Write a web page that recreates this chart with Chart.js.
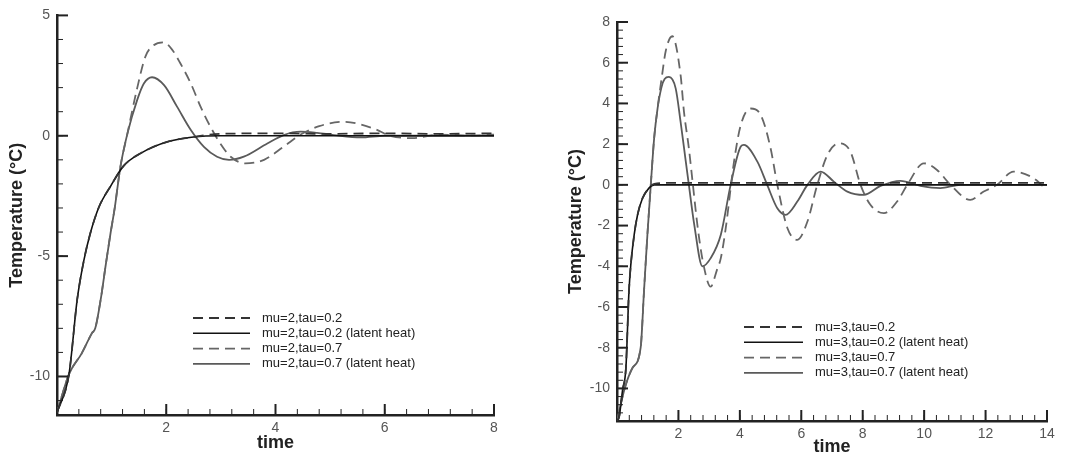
<!DOCTYPE html>
<html>
<head>
<meta charset="utf-8">
<script src="https://cdn.jsdelivr.net/npm/chart.js@4.4.0/dist/chart.umd.min.js"></script>
<style>
  body { margin: 0; background: #fff; }
  #c1 { position: absolute; left: 0; top: 0; }
  #c2 { position: absolute; left: 540px; top: 0; }
</style>
</head>
<body>
<canvas id="c1" width="520" height="467"></canvas>
<canvas id="c2" width="530" height="467"></canvas>
<script>
const FONT = 'Arial, "Liberation Sans", Helvetica, sans-serif';

// ---- left panel, mu=2 ----
const labelsMu2 = ["mu=2,tau=0.2", "mu=2,tau=0.2 (latent heat)", "mu=2,tau=0.7", "mu=2,tau=0.7 (latent heat)"];
const xTicksMu2 = [2, 4, 6, 8];
const yTicksMu2 = [-10, -5, 0, 5];

// tau=0.2 (no overshoot)
const tMu2Fast = [0, 0.22, 0.37, 0.49, 0.61, 0.77, 0.98, 1.22, 1.53, 2.02, 2.5, 3.0, 4.0, 5.0, 6.0, 7.0, 8.0];
const TMu2Fast = [-11.5, -9.9, -6.8, -5.2, -4.05, -2.95, -2.1, -1.25, -0.73, -0.25, -0.05, 0.08, 0.1, 0.08, 0.1, 0.08, 0.1];
const TMu2FastLH = [-11.5, -9.9, -6.8, -5.2, -4.05, -2.95, -2.1, -1.25, -0.73, -0.25, -0.05, 0, 0, 0, 0, 0, 0];

// tau=0.7 (oscillating)
const tMu2Slow = [0, 0.22, 0.45, 0.64, 0.7, 0.8, 0.89, 0.98, 1.06, 1.16, 1.29, 1.47, 1.62, 1.77, 1.95, 2.1, 2.26, 2.45, 2.63, 2.81, 2.99, 3.18, 3.45, 3.79, 4.15, 4.46, 4.8, 5.25, 5.8, 6.1, 6.5, 7.0, 7.5, 8.0];
const TMu2Slow = [-11.5, -9.9, -9.05, -8.2, -8.0, -6.8, -5.4, -4.05, -2.95, -1.3, 0.1, 2.0, 3.3, 3.76, 3.88, 3.6, 3.0, 2.17, 1.2, 0.37, -0.32, -0.87, -1.15, -1.0, -0.45, 0.05, 0.4, 0.58, 0.3, 0.0, -0.1, 0.05, 0.0, 0.05];
const tMu2SlowLH = [0, 0.22, 0.45, 0.64, 0.7, 0.8, 0.89, 0.98, 1.06, 1.16, 1.29, 1.47, 1.59, 1.74, 1.96, 2.2, 2.45, 2.69, 2.93, 3.15, 3.42, 3.85, 4.15, 4.46, 4.76, 5.07, 5.56, 6.0, 7.0, 8.0];
const TMu2SlowLH = [-11.5, -9.9, -9.05, -8.2, -8.0, -6.8, -5.4, -4.05, -2.95, -1.3, 0.1, 1.5, 2.17, 2.43, 2.1, 1.2, 0.24, -0.46, -0.87, -1.0, -0.87, -0.32, 0.03, 0.17, 0.12, 0.03, -0.07, 0, 0, 0];

// ---- right panel, mu=3 ----
const labelsMu3 = ["mu=3,tau=0.2", "mu=3,tau=0.2 (latent heat)", "mu=3,tau=0.7", "mu=3,tau=0.7 (latent heat)"];
const xTicksMu3 = [2, 4, 6, 8, 10, 12, 14];
const yTicksMu3 = [-10, -8, -6, -4, -2, 0, 2, 4, 6, 8];

const tMu3Fast = [0, 0.07, 0.18, 0.29, 0.39, 0.45, 0.56, 0.67, 0.83, 1.04, 1.21, 2, 4, 6, 8, 10, 12, 14];
const TMu3Fast = [-11.6, -11.4, -10.1, -9.0, -5.2, -3.92, -2.45, -1.47, -0.66, -0.16, 0.05, 0.1, 0.1, 0.1, 0.1, 0.1, 0.1, 0.1];
const TMu3FastLH = [-11.6, -11.4, -10.1, -9.0, -5.2, -3.92, -2.45, -1.47, -0.66, -0.16, 0, 0, 0, 0, 0, 0, 0, 0];

const tMu3Slow = [0, 0.25, 0.5, 0.77, 0.88, 0.99, 1.1, 1.21, 1.32, 1.45, 1.59, 1.8, 2.07, 2.18, 2.34, 2.46, 2.62, 2.8, 3.05, 3.25, 3.38, 3.54, 3.81, 4.03, 4.35, 4.68, 5.0, 5.22, 5.55, 5.87, 6.2, 6.52, 6.85, 7.22, 7.6, 7.93, 8.25, 8.69, 9.12, 9.45, 9.99, 10.42, 10.86, 11.5, 11.94, 12.37, 12.91, 13.56, 14];
const TMu3Slow = [-11.6, -10, -9.0, -8.0, -5.2, -2.45, 0, 2.3, 3.75, 5.2, 6.6, 7.3, 5.4, 3.6, 1.8, 0.16, -2.0, -3.8, -5.0, -4.2, -3.6, -2.13, 1.14, 2.94, 3.75, 3.43, 1.8, 0, -2.13, -2.7, -1.8, 0, 1.47, 2.04, 1.63, 0, -0.98, -1.39, -0.82, 0, 1.06, 0.73, 0, -0.74, -0.33, 0, 0.65, 0.33, -0.25];
const tMu3SlowLH = [0, 0.25, 0.5, 0.77, 0.88, 0.99, 1.1, 1.21, 1.32, 1.45, 1.55, 1.69, 1.91, 2.07, 2.24, 2.34, 2.51, 2.78, 3.05, 3.38, 3.7, 4.03, 4.13, 4.57, 4.89, 5.22, 5.49, 5.87, 6.2, 6.63, 7.06, 7.5, 8.04, 8.58, 9.23, 9.88, 10.53, 11.18, 12, 13, 14];
const TMu3SlowLH = [-11.6, -10, -9.0, -8.0, -5.2, -2.45, 0, 2.3, 3.75, 4.8, 5.2, 5.3, 4.74, 3.1, 1.14, 0, -1.9, -4.0, -3.6, -2.45, 0, 1.88, 1.96, 1.14, 0, -1.15, -1.47, -0.82, 0, 0.65, 0.16, -0.33, -0.49, -0.05, 0.2, -0.05, -0.16, 0, 0, 0, 0];

// line look for the 4 series (same in both panels)
const lineStyles = [
  { color: "#333", dash: [10, 6], width: 1.8 },
  { color: "#111", dash: [], width: 1.6 },
  { color: "#666", dash: [10, 6], width: 1.8 },
  { color: "#5a5a5a", dash: [], width: 1.8 },
];

function pts(t, T) {
  return t.map((x, i) => ({ x: x, y: T[i] }));
}

// ticks pointing into the plot, like the original plotting program
const innerTicks = {
  id: "innerTicks",
  afterDraw(chart, args, o) {
    const { ctx, chartArea: a, scales: { x, y } } = chart;
    ctx.save();
    ctx.strokeStyle = "#222";
    function seg(x1, y1, x2, y2, w) {
      ctx.lineWidth = w;
      ctx.beginPath();
      ctx.moveTo(x1, y1);
      ctx.lineTo(x2, y2);
      ctx.stroke();
    }
    for (let v = x.min + o.xMinor; v < x.max - 1e-6; v += o.xMinor) {
      const px = x.getPixelForValue(v);
      seg(px, a.bottom, px, a.bottom - 6, 1);
    }
    for (let v = Math.ceil(y.min / o.yMinor) * o.yMinor; v < y.max - 1e-6; v += o.yMinor) {
      const py = y.getPixelForValue(v);
      seg(a.left, py, a.left + 6, py, 1);
    }
    x.ticks.forEach(t => {
      const px = x.getPixelForValue(t.value);
      seg(px, a.bottom, px, a.bottom - 11, 2);
    });
    y.ticks.forEach(t => {
      const py = y.getPixelForValue(t.value);
      seg(a.left, py, a.left + 11, py, 2);
    });
    ctx.restore();
  }
};

// legend sitting inside the plot
const boxLegend = {
  id: "boxLegend",
  afterDraw(chart, args, o) {
    const ctx = chart.ctx;
    ctx.save();
    chart.data.datasets.forEach((ds, i) => {
      const yy = o.y + i * o.row;
      ctx.strokeStyle = ds.borderColor;
      ctx.lineWidth = ds.borderWidth;
      ctx.setLineDash(ds.borderDash);
      ctx.beginPath();
      ctx.moveTo(o.x, yy);
      ctx.lineTo(o.x + o.len, yy);
      ctx.stroke();
      ctx.setLineDash([]);
      ctx.fillStyle = "#222";
      ctx.font = "13px " + FONT;
      ctx.textBaseline = "middle";
      ctx.fillText(ds.label, o.x + o.len + 12, yy);
    });
    ctx.restore();
  }
};

function makePanel(id, labels, series, p) {
  const datasets = series.map((s, i) => ({
    label: labels[i],
    data: pts(s[0], s[1]),
    borderColor: lineStyles[i].color,
    borderDash: lineStyles[i].dash,
    borderWidth: lineStyles[i].width,
    pointRadius: 0,
    fill: false,
    cubicInterpolationMode: "monotone",
  }));
  return new Chart(document.getElementById(id), {
    type: "line",
    data: { datasets: datasets },
    plugins: [innerTicks, boxLegend],
    options: {
      responsive: false,
      animation: false,
      layout: { padding: { left: 0, right: p.padRight, top: p.padTop, bottom: 0 } },
      plugins: {
        legend: { display: false },
        tooltip: { enabled: false },
        innerTicks: { xMinor: 0.4, yMinor: p.yMinor },
        boxLegend: p.legend,
      },
      scales: {
        x: {
          type: "linear",
          min: 0,
          max: p.xMax,
          afterFit: s => { s.height = p.xHeight; },
          afterBuildTicks: s => { s.ticks = p.xTicks.map(v => ({ value: v })); },
          grid: { display: false, drawTicks: false },
          border: { display: true, color: "#222", width: 2.5 },
          ticks: { padding: 5, color: "#555", maxRotation: 0, font: { family: FONT, size: 14 } },
          title: {
            display: true, text: "time", color: "#222",
            font: { family: FONT, size: 18, weight: "bold" },
            padding: { top: 0, bottom: p.xTitlePad },
          },
        },
        y: {
          type: "linear",
          min: -11.6,
          max: p.yMax,
          afterFit: s => { s.width = p.yWidth; },
          afterBuildTicks: s => { s.ticks = p.yTicks.map(v => ({ value: v })); },
          grid: { display: false, drawTicks: false },
          border: { display: true, color: "#222", width: 2.5 },
          ticks: { padding: 7, color: "#555", font: { family: FONT, size: 14 } },
          title: {
            display: true, text: "Temperature (°C)", color: "#222",
            font: { family: FONT, size: 18, weight: "bold" },
            padding: { top: p.yTitlePad, bottom: 0 },
          },
        },
      },
    },
  });
}

makePanel("c1", labelsMu2, [
  [tMu2Fast, TMu2Fast],
  [tMu2Fast, TMu2FastLH],
  [tMu2Slow, TMu2Slow],
  [tMu2SlowLH, TMu2SlowLH],
], {
  xMax: 8, yMax: 5, xTicks: xTicksMu2, yTicks: yTicksMu2, yMinor: 1,
  padRight: 26, padTop: 15, xHeight: 52, yWidth: 57, xTitlePad: 13, yTitlePad: 6,
  legend: { x: 193, y: 318, len: 57, row: 15.3 },
});

makePanel("c2", labelsMu3, [
  [tMu3Fast, TMu3Fast],
  [tMu3Fast, TMu3FastLH],
  [tMu3Slow, TMu3Slow],
  [tMu3SlowLH, TMu3SlowLH],
], {
  xMax: 14, yMax: 8, xTicks: xTicksMu3, yTicks: yTicksMu3, yMinor: 0.4,
  padRight: 23, padTop: 22, xHeight: 46, yWidth: 77, xTitlePad: 9, yTitlePad: 25,
  legend: { x: 204, y: 327, len: 59, row: 15.3 },
});
</script>
</body>
</html>
